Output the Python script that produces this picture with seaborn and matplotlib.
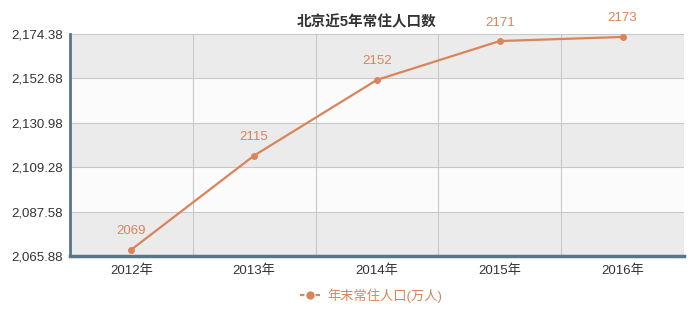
import matplotlib
matplotlib.use("Agg")
import matplotlib.pyplot as plt
import seaborn as sns
import pandas as pd
from matplotlib.lines import Line2D

years = ["2012年", "2013年", "2014年", "2015年", "2016年"]
population = [2069, 2115, 2152, 2171, 2173]
yticks = [2065.88, 2087.58, 2109.28, 2130.98, 2152.68, 2174.38]
title = "北京近5年常住人口数"
series_name = "年末常住人口(万人)"

sns.set_theme(style="white")
plt.rcParams['font.family'] = ['Liberation Sans', 'Noto Sans CJK SC', 'DejaVu Sans']

line_color = "#d9845a"
axis_color = "#56768a"

df = pd.DataFrame({"year": years, "pop": population})

fig = plt.figure(figsize=(7.0, 3.16), dpi=100)
ax = fig.add_axes([0.1, 0.19, 0.877, 0.702])

# alternating horizontal bands
for i in range(len(yticks) - 1):
    color = "#ebebeb" if i % 2 == 0 else "#fbfbfb"
    ax.axhspan(yticks[i], yticks[i + 1], color=color, zorder=0, lw=0)

sns.lineplot(data=df, x="year", y="pop", ax=ax, color=line_color, lw=1.6,
             marker="o", markersize=5, markeredgewidth=0, sort=False, zorder=3)

ax.set_xlim(-0.5, len(years) - 0.5)
ax.set_ylim(yticks[0], yticks[-1])
ax.set_yticks(yticks)
ax.set_yticklabels([f"{v:,.2f}" for v in yticks], fontsize=9.5, color="#333333")
ax.set_xticks(range(len(years)))
ax.set_xticklabels(years, fontsize=9.5, color="#333333")
ax.tick_params(axis="x", length=0, pad=6)
ax.tick_params(axis="y", length=0, pad=5)

# vertical grid at band boundaries + minor ticks
bounds = [i - 0.5 for i in range(len(years) + 1)]
for b in bounds[1:-1]:
    ax.axvline(b, color="#c8c8c8", lw=0.8, zorder=1)
for y in yticks[1:-1]:
    ax.axhline(y, color="#c8c8c8", lw=0.8, zorder=1)
ax.axhline(yticks[-1], color="#c8c8c8", lw=0.8, zorder=1)
ax.set_xticks(bounds, minor=True)
ax.tick_params(axis="x", which="minor", length=4, width=1, color="#333333", direction="out")

ax.set_xlabel("")
ax.set_ylabel("")
for s in ["top", "right"]:
    ax.spines[s].set_visible(False)
ax.spines["left"].set_color(axis_color)
ax.spines["left"].set_linewidth(2)
ax.spines["bottom"].set_color(axis_color)
ax.spines["bottom"].set_linewidth(2.5)

for i, v in enumerate(population):
    ax.annotate(str(v), (i, v), xytext=(0, 9), textcoords="offset points",
                ha="center", va="bottom", fontsize=9.5, color=line_color,
                annotation_clip=False)

fig.text(0.524, 0.93, title, ha="center", va="center", fontsize=10.5,
         fontweight="bold", color="#333333")

handle = Line2D([], [], color=line_color, lw=1.6, marker="o", markersize=6,
                markeredgewidth=0, linestyle="--", dashes=(2, 1.5))
leg = fig.legend([handle], [series_name], loc="center", bbox_to_anchor=(0.53, 0.065),
                 frameon=False, fontsize=9.5, handlelength=1.6, handletextpad=0.5)
for t in leg.get_texts():
    t.set_color(line_color)

fig.savefig("out.png", dpi=100, facecolor="white")
